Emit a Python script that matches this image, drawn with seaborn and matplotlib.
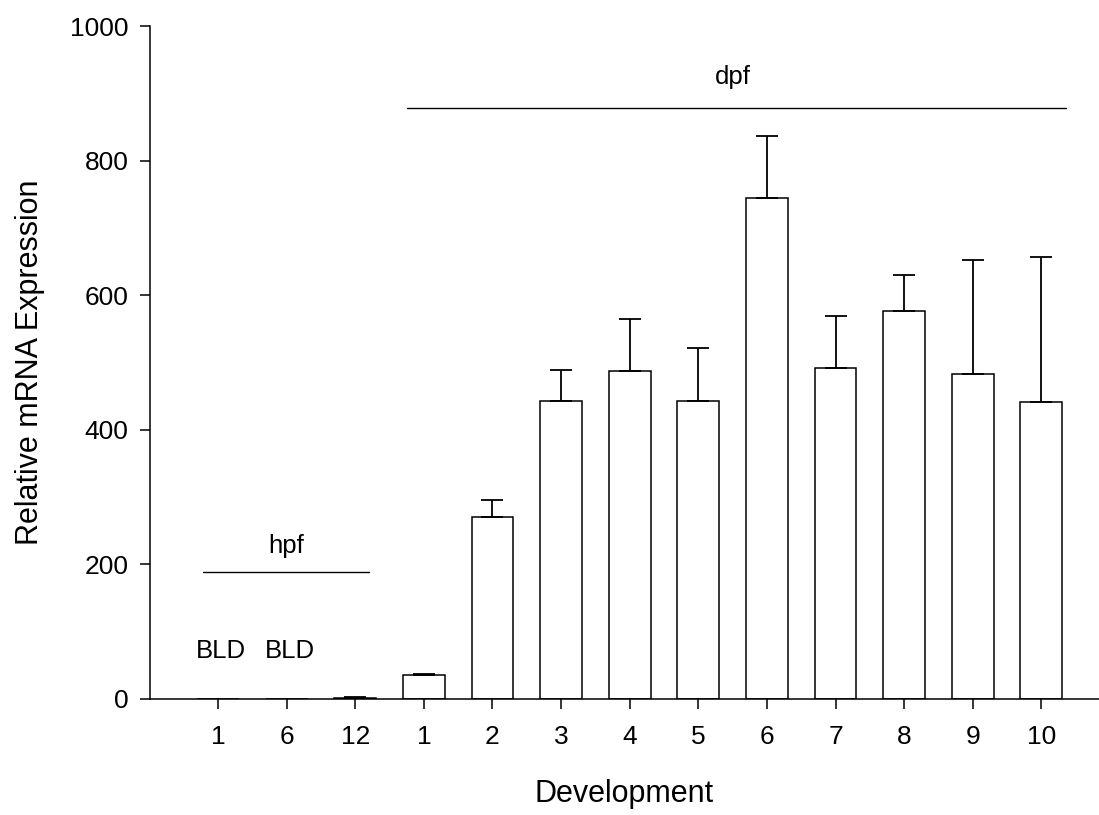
import numpy as np
import pandas as pd
import matplotlib
matplotlib.use("Agg")
import matplotlib.pyplot as plt
import seaborn as sns

# Developmental stages: hours post fertilisation, then days post fertilisation
stage_ids = ["1 hpf", "6 hpf", "12 hpf",
             "1 dpf", "2 dpf", "3 dpf", "4 dpf", "5 dpf",
             "6 dpf", "7 dpf", "8 dpf", "9 dpf", "10 dpf"]
tick_labels = ["1", "6", "12", "1", "2", "3", "4", "5", "6", "7", "8", "9", "10"]
expression = [0, 0, 1, 35, 271, 443, 487, 443, 744, 492, 576, 483, 442]
sem = [0, 0, 2, 2.5, 24, 46, 78, 79, 93, 77, 54, 169, 215]
below_detection = ["1 hpf", "6 hpf"]

sns.set_style("ticks")
plt.rcParams["font.family"] = ["Liberation Sans", "DejaVu Sans"]
plt.rcParams.update({"text.color": "black", "axes.labelcolor": "black",
                     "xtick.color": "black", "ytick.color": "black",
                     "axes.edgecolor": "black"})

df = pd.DataFrame({"stage": stage_ids, "expr": expression, "sem": sem})

fig = plt.figure(figsize=(10.99, 8.15), dpi=100)
ax = fig.add_axes([150 / 1099, 116 / 815, 949 / 1099, 673 / 815])

sns.barplot(data=df, x="stage", y="expr", order=stage_ids, color="white",
            edgecolor="black", linewidth=1.1, width=0.61, errorbar=None,
            saturation=1, ax=ax)

# Upper-only error bars (mean + SEM)
xpos = np.arange(len(stage_ids))
lower = np.zeros(len(sem))
show = df["sem"].to_numpy() > 0
ax.errorbar(xpos[show], df["expr"].to_numpy()[show],
            yerr=[lower[show], df["sem"].to_numpy()[show]],
            fmt="none", ecolor="black", elinewidth=1.3, capsize=7.6,
            capthick=1.3, zorder=3)

# BLD markers for stages below the detection limit
for s in below_detection:
    i = stage_ids.index(s)
    ax.text(i + 0.05, 54, "BLD", ha="center", va="bottom", fontsize=18.5)

# Group brackets
ax.plot([-0.22, 2.2], [188, 188], color="black", lw=1.0, clip_on=False)
ax.text(1, 210, "hpf", ha="center", va="bottom", fontsize=18.5)
ax.plot([2.755, 12.36], [878, 878], color="black", lw=1.0, clip_on=False)
ax.text(7.5, 907, "dpf", ha="center", va="bottom", fontsize=18.5)

ax.set_xlim(-0.991, 12.84)
ax.set_ylim(0, 1000)
ax.set_yticks([0, 200, 400, 600, 800, 1000])
ax.set_xticks(xpos)
ax.set_xticklabels(tick_labels)

ax.set_xlabel("Development", fontsize=22, labelpad=22)
ax.set_ylabel("Relative mRNA Expression", fontsize=22, labelpad=18)

ax.tick_params(axis="both", direction="out", length=7.5, width=1.1,
               labelsize=19, color="black")
ax.tick_params(axis="x", pad=11)
ax.tick_params(axis="y", pad=8)

for side in ["top", "right"]:
    ax.spines[side].set_visible(False)
for side in ["left", "bottom"]:
    ax.spines[side].set_linewidth(1.1)
    ax.spines[side].set_color("black")

fig.savefig("out.png", dpi=100)
